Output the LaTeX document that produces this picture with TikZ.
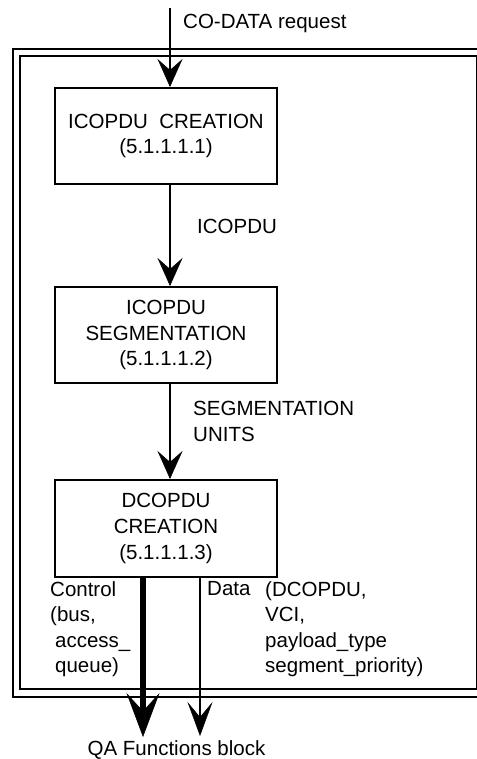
\documentclass[tikz,border=0pt]{standalone}
\usepackage{fontspec}
\setmainfont{Liberation Sans}
\usetikzlibrary{arrows.meta}
\begin{document}
\begin{tikzpicture}[x=1pt,y=-1pt,
  every node/.style={font=\fontsize{20.5}{25.6}\selectfont},
  procbox/.style={draw,line width=2pt,minimum width=222pt,inner sep=0pt,align=center},
  lbl/.style={anchor=north west,inner sep=0pt,align=left},
  arr/.style={line width=2pt,-{Stealth[length=28pt,width=25pt,inset=11pt,line width=0.5pt]}},
  arrlong/.style={line width=2pt,-{Stealth[length=34pt,width=25pt,inset=15pt,line width=0.5pt]}},
  thickarr/.style={line width=6.5pt,-{Stealth[length=44pt,width=33pt,inset=18pt,line width=0.5pt]}},
  frame/.style={draw,line width=2pt}]
\useasboundingbox (0,0) rectangle (476,759);
% frames
\draw[frame] (13,49) rectangle (600,697);
\draw[frame] (20,56.5) rectangle (476.6,689);
% boxes
\node[procbox,minimum height=96pt] (b1) at (166,136) {ICOPDU\ \ CREATION\\(5.1.1.1.1)};
\node[procbox,minimum height=96pt] (b2) at (166,335) {ICOPDU\\SEGMENTATION\\(5.1.1.1.2)};
\node[procbox,minimum height=97pt] (b3) at (166,528.5) {DCOPDU\\CREATION\\(5.1.1.1.3)};
% connectors
\coordinate (top) at (170,8);
\draw[arr] (top) -- (top |- b1.north);
\draw[arr] (b1.south -| top) -- (b2.north -| top);
\draw[arr] (b2.south -| top) -- (b3.north -| top);
\coordinate (ctl) at (143,737);
\coordinate (dat) at (200,736);
\draw[thickarr] (b3.south -| ctl) -- (ctl);
\draw[arrlong] (b3.south -| dat) -- (dat);
% labels
\node[lbl] (l0) at (183,14) {CO-DATA request};
\node[lbl] (l1) at (197,219) {ICOPDU};
\node[lbl] (l2) at (193,401) {SEGMENTATION\\UNITS};
\node[lbl] (l3) at (50,581) {Control\\(bus,\\\hspace*{5pt}access\_\\\hspace*{5pt}queue)};
\node[lbl] (l4) at (207,581) {Data};
\node[lbl] (l5) at (265,581) {(DCOPDU,\\VCI,\\payload\_type\\segment\_priority)};
\node[anchor=base,inner sep=0pt] (qa) at (176.5,755) {QA Functions block};
\end{tikzpicture}
\end{document}
